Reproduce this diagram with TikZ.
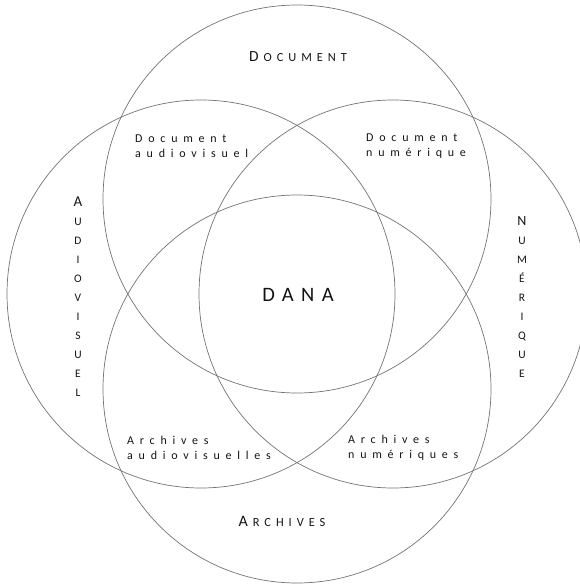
\documentclass[tikz,border=0pt]{standalone}
\usepackage{fontspec}
\setmainfont{Carlito}
\begin{document}
\begin{tikzpicture}[x=1pt,y=-1pt,
  ring/.style={draw=black!55,line width=0.7pt},
  txt/.style={inner sep=0pt,text=black!92},
  small/.style={txt,align=left,font=\fontsize{12}{14.5}\selectfont\addfontfeature{LetterSpace=48}},
  vert/.style={txt,align=center,font=\fontsize{11.5}{19}\selectfont}]
\useasboundingbox (0,0) rectangle (580,586);
\begin{scope}
\clip (0,0) rectangle (580,586);
\draw[ring] (297,199) circle (194);
\draw[ring] (201,294) circle (194);
\draw[ring] (393,294) circle (194);
\draw[ring] (297,389) circle (194);
\end{scope}
\node[txt,anchor=base] (doc) at (298,62) {{\fontsize{15.5}{18}\selectfont D}\kern5pt{\fontsize{12.4}{18}\selectfont\addfontfeature{LetterSpace=40}OCUMENT}};
\node[txt,anchor=base] (arc) at (282,526) {{\fontsize{16}{18}\selectfont A}\kern5pt{\fontsize{12.4}{18}\selectfont\addfontfeature{LetterSpace=40}RCHIVES}};
\node[txt,anchor=center,font=\fontsize{20.5}{24}\selectfont\addfontfeature{LetterSpace=36}] (dana) at (298,295) {DANA};
\node[small,anchor=west] (docav) at (135,146) {Document\\audiovisuel};
\node[small,anchor=west] (docnum) at (366,146) {Document\\numérique};
\node[small,anchor=west] (arcav) at (127,448) {Archives\\audiovisuelles};
\node[small,anchor=west] (arcnum) at (348,448) {Archives\\numériques};
\node[vert] (av) at (78,297) {{\fontsize{15}{19}\selectfont A}\\U\\D\\I\\O\\V\\I\\S\\U\\E\\L};
\node[vert] (num) at (522,297) {{\fontsize{14}{19}\selectfont N}\\U\\M\\É\\R\\I\\Q\\U\\E};
\end{tikzpicture}
\end{document}
